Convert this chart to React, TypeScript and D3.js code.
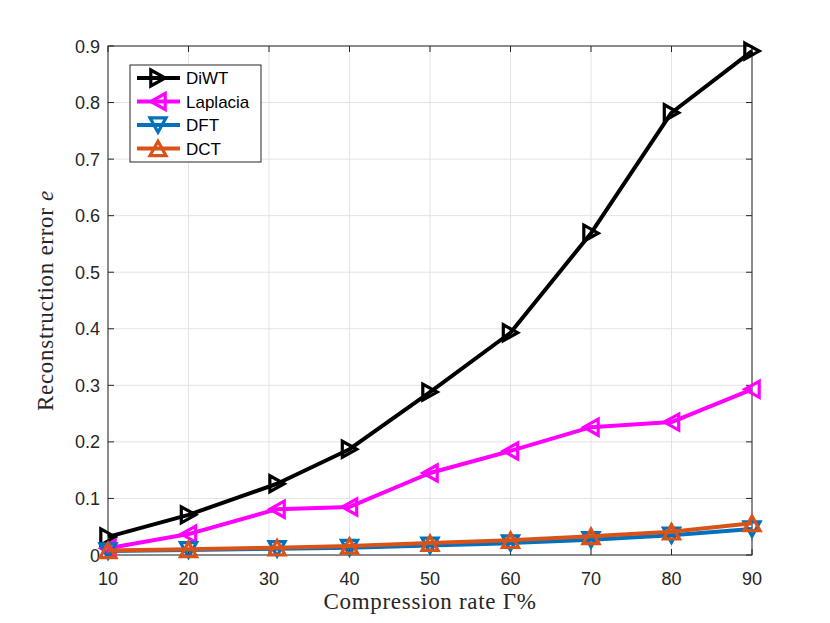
import React from "react";
import * as d3 from "d3";

const rates = [10, 20, 31, 40, 50, 60, 70, 80, 90];
const xTicks = [10, 20, 30, 40, 50, 60, 70, 80, 90];
const yTicks = [0, 0.1, 0.2, 0.3, 0.4, 0.5, 0.6, 0.7, 0.8, 0.9];

const diwt = [0.032, 0.071, 0.126, 0.187, 0.288, 0.393, 0.569, 0.782, 0.891];
const laplacia = [0.012, 0.037, 0.081, 0.085, 0.145, 0.184, 0.226, 0.235, 0.293];
const dft = [0.007, 0.009, 0.011, 0.013, 0.017, 0.021, 0.027, 0.035, 0.046];
const dct = [0.008, 0.010, 0.013, 0.016, 0.021, 0.026, 0.033, 0.041, 0.056];

const seriesNames = ["DiWT", "Laplacia", "DFT", "DCT"];
const seriesColors = ["#000000", "#ff00ff", "#0072bd", "#d95319"];
const seriesMarkers = ["right", "left", "down", "up"];
const seriesValues = [diwt, laplacia, dft, dct];

const W = 830;
const H = 623;
const M = { left: 108, right: 78, top: 46, bottom: 68 };

const tri = (dir: string, s: number) => {
  // triangle path centred at 0,0
  const r = s / 2;
  const pts: [number, number][] =
    dir === "right" ? [[-r * 0.9, -r], [r * 0.9, 0], [-r * 0.9, r]]
    : dir === "left" ? [[r * 0.9, -r], [-r * 0.9, 0], [r * 0.9, r]]
    : dir === "down" ? [[-r, -r * 0.9], [r, -r * 0.9], [0, r * 0.9]]
    : [[-r, r * 0.9], [r, r * 0.9], [0, -r * 0.9]];
  return "M" + pts.map((p) => p.join(",")).join("L") + "Z";
};

const App = () => {
  const x = d3.scaleLinear().domain([10, 90]).range([M.left, W - M.right]);
  const y = d3.scaleLinear().domain([0, 0.9]).range([H - M.bottom, M.top]);
  const line = d3
    .line<number>()
    .x((_, i) => x(rates[i]))
    .y((d) => y(d));

  const x0 = x.range()[0];
  const x1 = x.range()[1];
  const y0 = y.range()[0];
  const y1 = y.range()[1];
  const tickFont = "'Liberation Sans', Arial, sans-serif";
  const serif = "'Liberation Serif', 'Times New Roman', serif";
  const axisColor = "#262626";

  return (
    <div style={{ position: "absolute", left: 0, top: 0 }}>
      <svg width={W} height={H} style={{ display: "block", background: "#fff" }}>
        {/* grid */}
        {xTicks.map((t) => (
          <line key={"gx" + t} x1={x(t)} x2={x(t)} y1={y0} y2={y1} stroke="#e3e3e3" strokeWidth={1} />
        ))}
        {yTicks.map((t) => (
          <line key={"gy" + t} x1={x0} x2={x1} y1={y(t)} y2={y(t)} stroke="#e3e3e3" strokeWidth={1} />
        ))}
        {/* ticks */}
        {xTicks.map((t) => (
          <g key={"tx" + t} stroke={axisColor}>
            <line x1={x(t)} x2={x(t)} y1={y0} y2={y0 - 6} />
            <line x1={x(t)} x2={x(t)} y1={y1} y2={y1 + 6} />
          </g>
        ))}
        {yTicks.map((t) => (
          <g key={"ty" + t} stroke={axisColor}>
            <line x1={x0} x2={x0 + 6} y1={y(t)} y2={y(t)} />
            <line x1={x1} x2={x1 - 6} y1={y(t)} y2={y(t)} />
          </g>
        ))}
        <rect x={x0} y={y1} width={x1 - x0} height={y0 - y1} fill="none" stroke={axisColor} strokeWidth={1} />
        {/* tick labels */}
        {xTicks.map((t) => (
          <text key={"lx" + t} x={x(t)} y={y0 + 30} textAnchor="middle" fontFamily={tickFont} fontSize={18} fill={axisColor}>
            {t}
          </text>
        ))}
        {yTicks.map((t) => (
          <text key={"ly" + t} x={x0 - 8} y={y(t) + 6.5} textAnchor="end" fontFamily={tickFont} fontSize={18} fill={axisColor}>
            {t === 0 ? "0" : d3.format(".1f")(t)}
          </text>
        ))}
        {/* axis labels */}
        <text x={(x0 + x1) / 2} y={H - 14} textAnchor="middle" fontFamily={serif} fontSize={23} letterSpacing={0.7} fill={axisColor}>
          Compression rate Γ%
        </text>
        <text
          transform={`translate(53, ${(y0 + y1) / 2}) rotate(-90)`}
          textAnchor="middle"
          fontFamily={serif}
          fontSize={23}
          letterSpacing={0.7}
          fill={axisColor}
        >
          Reconstruction error <tspan fontStyle="italic">e</tspan>
        </text>
        {/* series */}
        {seriesValues.map((vals, si) => (
          <g key={seriesNames[si]}>
            <path d={line(vals)!} fill="none" stroke={seriesColors[si]} strokeWidth={4} strokeLinejoin="round" />
            {vals.map((v, i) => (
              <path
                key={i}
                transform={`translate(${x(rates[i])},${y(v)})`}
                d={tri(seriesMarkers[si], 16)}
                fill="none"
                stroke={seriesColors[si]}
                strokeWidth={3.2}
              />
            ))}
          </g>
        ))}
        {/* legend */}
        <g>
          <rect x={130} y={65} width={131} height={97} fill="#fff" stroke={axisColor} strokeWidth={1} />
          {seriesNames.map((n, i) => {
            const ly = 78 + i * 23.5;
            return (
              <g key={"lg" + n}>
                <line x1={137} x2={180} y1={ly} y2={ly} stroke={seriesColors[i]} strokeWidth={4} />
                <path transform={`translate(158,${ly})`} d={tri(seriesMarkers[i], 16)} fill="none" stroke={seriesColors[i]} strokeWidth={3.2} />
                <text x={186} y={ly + 6} fontFamily={tickFont} fontSize={17} fill="#000">
                  {n}
                </text>
              </g>
            );
          })}
        </g>
      </svg>
    </div>
  );
};

export default App;
